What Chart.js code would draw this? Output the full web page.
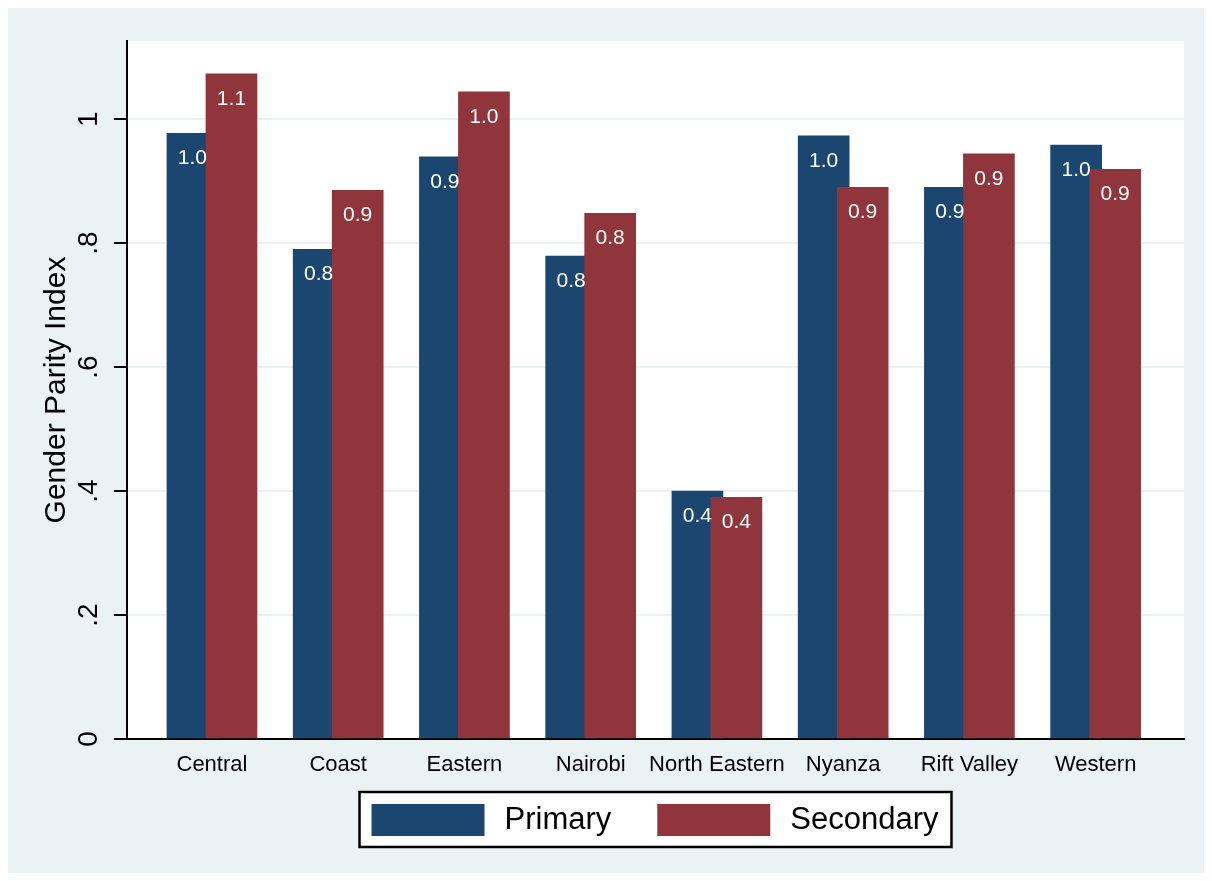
<!DOCTYPE html>
<html><head><meta charset="utf-8">
<script src="https://cdn.jsdelivr.net/npm/chart.js@4/dist/chart.umd.min.js"></script>
<style>html,body{margin:0;padding:0;background:#fff;}</style>
</head><body>
<canvas id="c" width="1212" height="881"></canvas>
<script>
const categories = ['Central','Coast','Eastern','Nairobi','North Eastern','Nyanza','Rift Valley','Western'];
const primaryValues = [0.977,0.790,0.939,0.779,0.400,0.973,0.890,0.958];
const secondaryValues = [1.073,0.885,1.044,0.848,0.390,0.890,0.944,0.919];
const seriesNames = ['Primary','Secondary'];
const yTickValues = [0,0.2,0.4,0.6,0.8,1];
const yTickLabels = ['0','.2','.4','.6','.8','1'];
const yTitle = 'Gender Parity Index';

const FONT = "'Liberation Sans', Arial, sans-serif";
const BLUE = '#1a4670';
const RED = '#8f353b';
const BG = '#eaf2f3';
const OFF = 0.1545;      // half distance between the two bar centres, in category units
const BAR_W = 51;

Chart.defaults.font.family = FONT;
Chart.defaults.color = '#000';

const bgPlugin = {
  id: 'bg',
  beforeDraw(chart) {
    const {ctx, chartArea: a} = chart;
    ctx.save();
    ctx.fillStyle = '#fff';
    ctx.fillRect(0, 0, chart.width, chart.height);
    ctx.fillStyle = BG;
    ctx.fillRect(8, 8, chart.width - 16, chart.height - 16);
    ctx.fillStyle = '#fff';
    ctx.fillRect(a.left, a.top, a.right - a.left, a.bottom - a.top);
    ctx.restore();
  }
};

const yLabelPlugin = {
  id: 'ylabels',
  afterDraw(chart) {
    const {ctx} = chart;
    const y = chart.scales.y;
    ctx.save();
    ctx.font = '28px ' + FONT;
    ctx.fillStyle = '#000';
    ctx.textAlign = 'center';
    ctx.textBaseline = 'middle';
    yTickValues.forEach((v, i) => {
      const py = y.getPixelForValue(v);
      ctx.save();
      ctx.translate(y.right - 38, py);
      ctx.rotate(-Math.PI / 2);
      ctx.fillText(yTickLabels[i], 0, 0);
      ctx.restore();
    });
    ctx.restore();
  }
};

const valueLabelPlugin = {
  id: 'vlabels',
  afterDatasetsDraw(chart) {
    const {ctx} = chart;
    ctx.save();
    ctx.font = '21px ' + FONT;
    ctx.fillStyle = '#fff';
    ctx.textAlign = 'center';
    ctx.textBaseline = 'middle';
    chart.data.datasets.forEach((ds, di) => {
      const meta = chart.getDatasetMeta(di);
      meta.data.forEach((el, i) => {
        ctx.fillText(ds.data[i].y.toFixed(1), el.x, el.y + 25);
      });
    });
    ctx.restore();
  }
};

const legendPlugin = {
  id: 'boxlegend',
  afterDraw(chart) {
    const {ctx, chartArea: a} = chart;
    ctx.save();
    ctx.font = '31px ' + FONT;
    const sw = 113, sh = 32, gapT = 20, gapI = 46, padL = 12, padR = 13, h = 55;
    const items = chart.data.datasets.map(d => ({text: d.label, color: d.backgroundColor, w: ctx.measureText(d.label).width}));
    let total = padL + padR;
    items.forEach((it, i) => { total += sw + gapT + it.w + (i < items.length - 1 ? gapI : 0); });
    const cx = (a.left + a.right) / 2;
    const left = cx - total / 2;
    const top = a.bottom + 53;
    ctx.fillStyle = '#fff';
    ctx.fillRect(left, top, total, h);
    ctx.strokeStyle = '#000';
    ctx.lineWidth = 2.5;
    ctx.strokeRect(left, top, total, h);
    let x = left + padL;
    ctx.textBaseline = 'middle';
    ctx.textAlign = 'left';
    items.forEach(it => {
      ctx.fillStyle = it.color;
      ctx.fillRect(x, top + 12, sw, sh);
      x += sw + gapT;
      ctx.fillStyle = '#000';
      ctx.fillText(it.text, x, top + h / 2 + 1);
      x += it.w + gapI;
    });
    ctx.restore();
  }
};

new Chart(document.getElementById('c'), {
  type: 'bar',
  data: {
    datasets: [
      {label: seriesNames[0], data: primaryValues.map((v, i) => ({x: i + 1 - OFF, y: v})),
       backgroundColor: BLUE, borderWidth: 0, order: 1},
      {label: seriesNames[1], data: secondaryValues.map((v, i) => ({x: i + 1 + OFF, y: v})),
       backgroundColor: RED, borderWidth: 0, order: 0}
    ]
  },
  options: {
    responsive: false,
    animation: false,
    devicePixelRatio: 1,
    grouped: false,
    barThickness: BAR_W,
    layout: {padding: {top: 41, right: 28, left: 0, bottom: 0}},
    plugins: {legend: {display: false}, tooltip: {enabled: false}},
    scales: {
      x: {
        type: 'linear', min: 0.327, max: 8.70, offset: false,
        afterBuildTicks: s => { s.ticks = categories.map((c, i) => ({value: i + 1})); },
        afterFit: s => { s.height = 142; },
        ticks: {autoSkip: false, maxRotation: 0, minRotation: 0, padding: 13,
                font: {size: 22}, color: '#000',
                callback: v => categories[Math.round(v) - 1]},
        grid: {display: false, drawTicks: false},
        border: {display: true, color: '#000', width: 2}
      },
      y: {
        type: 'linear', min: 0, max: 1.126,
        afterBuildTicks: s => { s.ticks = yTickValues.map(v => ({value: v})); },
        afterFit: s => { s.width = 127; },
        ticks: {display: false},
        grid: {color: BG, lineWidth: 2, drawTicks: true, tickLength: 13, tickColor: '#000', tickWidth: 2},
        border: {display: true, color: '#000', width: 2},
        title: {display: true, text: yTitle, font: {size: 30}, color: '#000', padding: {top: 39, bottom: 0}}
      }
    }
  },
  plugins: [bgPlugin, yLabelPlugin, valueLabelPlugin, legendPlugin]
});
</script>
</body></html>
